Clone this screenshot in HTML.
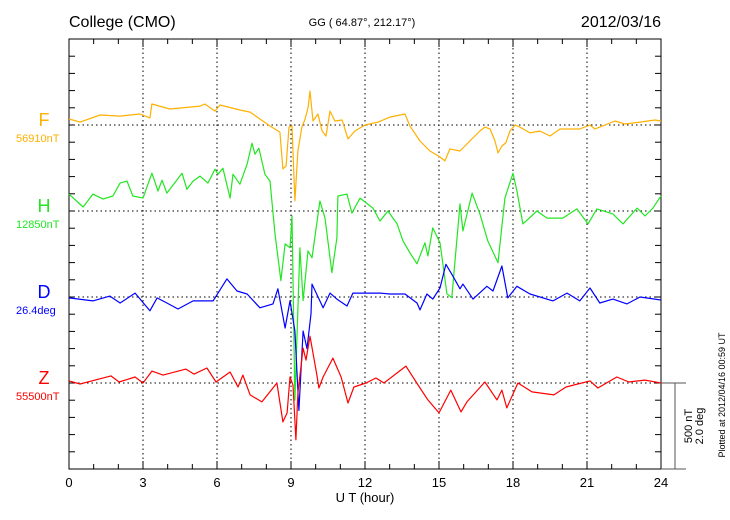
<!DOCTYPE html>
<html><head><meta charset="utf-8"><style>
body{margin:0;background:#fff;}
svg{display:block;font-family:"Liberation Sans",sans-serif;}
</style></head><body>
<svg id="c" width="730" height="520" viewBox="0 0 730 520"></svg>
<script>
// Data: hours (UT) and offsets from baseline (nT; D in degrees)
const fTimes=[0,0.45,1.26,2.07,2.88,3.28,3.36,4.09,5.31,5.51,5.92,6.12,6.93,7.34,7.74,8.15,8.55,8.67,8.80,8.92,9.04,9.16,9.28,9.44,9.57,9.69,9.77,9.89,10.09,10.26,10.42,10.58,10.78,11.07,11.31,11.59,12.0,12.53,13.01,13.62,13.82,14.23,14.63,15.04,15.24,15.44,15.85,16.25,16.66,16.86,17.07,17.27,17.39,17.55,17.71,17.88,18.08,18.28,18.69,19.09,19.50,19.90,20.71,21.12,21.32,21.52,22.13,22.54,23.15,23.76,24];
const fValues=[35,17,58,52,64,41,122,93,110,122,81,116,87,75,35,-6,-41,-255,-238,-12,-6,-441,-151,-12,35,99,197,23,64,-35,-64,81,23,29,-81,-35,0,17,46,64,-6,-93,-151,-186,-209,-139,-151,-93,-35,-12,-23,-93,-162,-122,-104,-35,0,-12,-46,-35,-64,-23,-23,0,-23,-12,23,6,17,29,23];
const hTimes=[0,0.57,0.97,1.38,1.78,2.07,2.35,2.59,3.0,3.36,3.61,3.77,3.97,4.58,4.78,5.03,5.31,5.63,5.92,6.04,6.24,6.53,6.65,6.93,7.22,7.42,7.54,7.70,7.94,8.15,8.35,8.59,8.76,8.96,9.04,9.16,9.36,9.49,9.69,9.85,10.17,10.38,10.66,10.86,10.90,11.27,11.47,11.80,12.32,12.61,12.93,13.30,13.54,13.82,14.11,14.43,14.55,14.75,15.04,15.32,15.52,15.85,15.97,16.34,16.66,16.98,17.39,17.67,18.0,18.16,18.40,18.97,19.38,20.02,20.59,21.04,21.40,22.05,22.46,23.03,23.35,23.67,24];
const hValues=[98,23,98,69,87,162,174,87,75,220,116,179,104,220,127,174,203,162,243,214,249,75,214,156,272,394,330,365,214,174,-133,-405,-191,-214,-29,-1100,-214,-521,-232,-272,58,-41,-359,-156,87,98,-12,75,17,-58,0,-75,-174,-243,-307,-185,-261,-98,-185,-481,-504,41,-116,104,-17,-174,-301,75,220,116,-75,0,-41,-41,12,-75,12,-17,-75,17,-29,17,87];
const dTimes=[0,0.97,1.66,2.07,2.68,3.28,3.57,3.97,4.42,5.03,5.84,6.40,6.81,7.22,7.74,8.27,8.47,8.76,8.96,9.16,9.32,9.49,9.65,9.81,9.85,10.30,10.58,10.86,11.27,11.51,12.61,13.01,13.62,14.11,14.23,14.51,14.75,15.04,15.28,15.52,15.85,15.97,16.38,16.94,17.19,17.55,17.79,18.16,18.69,19.62,20.19,20.71,21.12,21.52,22.05,22.62,23.15,24];
const dValues=[-0.02,-0.09,0.02,-0.14,0.09,-0.32,-0.02,-0.14,-0.28,-0.09,-0.09,0.42,0.14,0.07,-0.25,-0.16,0.19,-0.72,-0.09,-0.79,-2.64,-0.79,-1.20,-0.39,0.30,-0.25,0.09,-0.05,-0.21,0.09,0.09,0.07,0.07,-0.14,-0.30,0.07,-0.05,0.21,0.76,0.53,0.19,0.30,-0.05,0.25,0.14,0.72,-0.02,0.25,0.07,-0.09,0.09,-0.09,0.21,-0.14,-0.05,-0.16,0,-0.07];
const zTimes=[0,0.45,1.70,2.03,2.68,3.0,3.36,3.81,4.74,5.07,5.59,5.96,6.53,6.85,7.05,7.34,7.82,8.43,8.67,8.84,8.96,9.08,9.20,9.28,9.49,9.61,9.77,10.05,10.13,10.30,10.70,11.03,11.31,11.55,12.04,12.44,12.77,13.66,14.07,14.55,15.0,15.48,15.89,16.13,16.86,17.35,17.55,17.75,18.20,18.77,19.66,20.15,21.12,21.44,22.21,22.70,23.35,24];
const zValues=[12,-6,41,6,35,0,69,46,81,52,87,6,64,-23,46,-69,-110,0,-226,-174,35,-12,-330,-58,203,133,272,46,-29,35,145,35,-116,-23,0,29,0,98,6,-98,-174,-41,-168,-110,6,-98,-41,-145,0,-52,-69,-23,12,-29,35,6,17,0];
const xTickLabels=["0","3","6","9","12","15","18","21","24"];

const NS="http://www.w3.org/2000/svg";
const svg=document.getElementById('c');
const L=69,R=661,T=39,B=469;
const PX100=17.2; // px per 100 nT
const DEG_PX=PX100*2.5; // 1 deg = 250 nT equivalent
const xs=h=>L+(R-L)*h/24;
const yNT=(base,v)=>base-v*PX100/100;
const yDeg=(base,v)=>base-v*DEG_PX;
const bases={F:B-20*PX100,H:B-15*PX100,D:B-10*PX100,Z:B-5*PX100};
function mk(tag,attrs,parent){const e=document.createElementNS(NS,tag);for(const k in attrs)e.setAttribute(k,attrs[k]);(parent||svg).appendChild(e);return e;}
function txt(s,attrs,name){const e=mk('text',attrs);e.textContent=s;


return e;}

// grid
const grid=mk('g',{stroke:'#000','stroke-width':1,'stroke-dasharray':'1.5,3'});


for(let h=3;h<24;h+=3){const l=mk('line',{x1:xs(h),x2:xs(h),y1:T,y2:B},grid);

}
for(const k of ['F','H','D','Z']){const l=mk('line',{x1:L,x2:R,y1:bases[k],y2:bases[k]},grid);

}

// frame and ticks
const fr=mk('rect',{x:L,y:T,width:R-L,height:B-T,fill:'none',stroke:'#000','stroke-width':1});


const tk=mk('g',{stroke:'#000','stroke-width':1});


for(let i=1;i<25;i++){const y=B-i*PX100;mk('line',{x1:L,x2:L+6,y1:y,y2:y},tk);mk('line',{x1:R-6,x2:R,y1:y,y2:y},tk);}
for(let h=1;h<24;h++){const len=h%3==0?8:5;mk('line',{x1:xs(h),x2:xs(h),y1:B,y2:B-len},tk);mk('line',{x1:xs(h),x2:xs(h),y1:T,y2:T+len},tk);}

// series
function series(times,vals,base,fn,color,name){
  let d='';for(let i=0;i<times.length;i++){d+=(i?'L':'M')+xs(times[i]).toFixed(1)+','+fn(base,vals[i]).toFixed(1);}
  const p=mk('path',{d:d,fill:'none',stroke:color,'stroke-width':1.2,'stroke-linejoin':'round'});
  
  
}
series(fTimes,fValues,bases.F,yNT,'#ffb000','series-f');
series(hTimes,hValues,bases.H,yNT,'#22e622','series-h');
series(dTimes,dValues,bases.D,yDeg,'#0000ff','series-d');
series(zTimes,zValues,bases.Z,yNT,'#ff0000','series-z');

// labels
txt('College (CMO)',{x:69,y:27,'font-size':16},'station-title');
txt('GG ( 64.87°, 212.17°)',{x:362,y:26,'font-size':11,'text-anchor':'middle'},'coordinates-label');
txt('2012/03/16',{x:661,y:27,'font-size':16,'text-anchor':'end'},'date-label');
const comp=[['F','56910nT','#ffb000'],['H','12850nT','#22e622'],['D','26.4deg','#0000ff'],['Z','55500nT','#ff0000']];
for(const [c,v,col] of comp){
  txt(c,{x:44,y:bases[c]+1,'font-size':18,'text-anchor':'middle',fill:col},'component-'+c.toLowerCase()+'-label');
  txt(v,{x:16,y:bases[c]+17,'font-size':11,fill:col},'component-'+c.toLowerCase()+'-baseline');
}
xTickLabels.forEach((s,i)=>txt(s,{x:xs(i*3),y:487,'font-size':13,'text-anchor':'middle'},'x-tick-label'));
txt('U T (hour)',{x:365,y:502,'font-size':13,'text-anchor':'middle'},'x-axis-title');

// scale bar
const sb=mk('g',{stroke:'#555','stroke-width':1});


mk('line',{x1:R,x2:686,y1:bases.Z,y2:bases.Z},sb);
mk('line',{x1:R,x2:686,y1:B,y2:B},sb);
mk('line',{x1:675,x2:675,y1:bases.Z,y2:B},sb);
txt('500 nT',{x:0,y:0,'font-size':11,'text-anchor':'middle',transform:'translate(692,426) rotate(-90)'},'scale-nt-label');
txt('2.0 deg',{x:0,y:0,'font-size':11,'text-anchor':'middle',transform:'translate(703,426) rotate(-90)'},'scale-deg-label');
txt('Plotted at 2012/04/16 00:59 UT',{x:0,y:0,'font-size':9,'text-anchor':'middle',transform:'translate(725,395) rotate(-90)'},'plotted-at-note');
</script>
</body></html>
